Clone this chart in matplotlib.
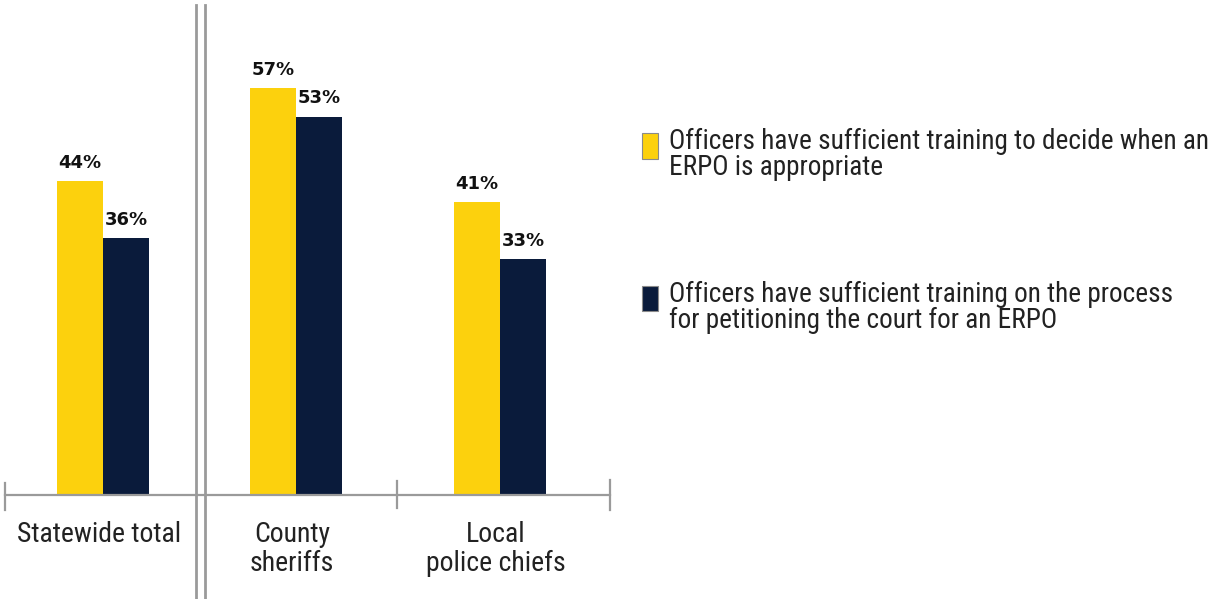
import matplotlib
matplotlib.use("Agg")
import matplotlib.pyplot as plt
from matplotlib.lines import Line2D
from matplotlib.patches import Rectangle
import matplotlib.transforms as mtransforms

categories = ["Statewide total", "County\nsheriffs", "Local\npolice chiefs"]
series_names = ["Officers have sufficient training to decide when an\nERPO is appropriate",
                "Officers have sufficient training on the process\nfor petitioning the court for an ERPO"]
decide = [44, 57, 41]
process = [36, 53, 33]
colors = ["#FCD10D", "#0A1B3B"]

cond = ["Roboto Condensed", "DejaVu Sans"]
bold = ["DejaVu Sans"]

W, H = 1214, 599
fig = plt.figure(figsize=(W / 100, H / 100), dpi=100)
ax = fig.add_axes([5 / W, (H - 495) / H, 605 / W, 490 / H])

x = [0, 0.972, 2.0]
bw = 0.232
for i, (a, b) in enumerate(zip(decide, process)):
    ax.bar(x[i] - bw / 2, a, width=bw, color=colors[0], zorder=2)
    ax.bar(x[i] + bw / 2, b, width=bw, color=colors[1], zorder=2)
    ax.text(x[i] - bw / 2, a + 1.3, f"{a}%", ha="center", va="bottom",
            fontsize=13, fontweight="bold", color="#111111", family=bold)
    ax.text(x[i] + bw / 2, b + 1.3, f"{b}%", ha="center", va="bottom",
            fontsize=13, fontweight="bold", color="#111111", family=bold)

ax.set_xlim(-0.494, 2.554)
ax.set_ylim(0, 490 / 7.14)
ax.axis("off")

trans = mtransforms.blended_transform_factory(ax.transData, ax.transAxes)
for i, c in enumerate(categories):
    ax.text(x[i] - 0.02, -0.054, c, transform=trans, ha="center", va="top",
            fontsize=20, family=cond, color="#222222", linespacing=1.05)

gray = "#9A9A9A"
fig.add_artist(Line2D([5 / W, 610 / W], [(H - 495) / H] * 2, color=gray, lw=1.6))
for px, y0, y1 in [(5, 483, 510), (397, 481, 508), (610, 480, 510)]:
    fig.add_artist(Line2D([px / W] * 2, [(H - y0) / H, (H - y1) / H], color=gray, lw=1.6))
for px in [196, 205]:
    fig.add_artist(Line2D([px / W] * 2, [(H - 5) / H, 0], color=gray, lw=2))

for (y0, y1), col, name in zip([(133, 159), (286, 311)], colors, series_names):
    fig.add_artist(Rectangle((642 / W, (H - y1) / H), 16 / W, (y1 - y0) / H,
                             facecolor=col, edgecolor="#8a8a8a", lw=0.8))
    fig.text(669 / W, (H - y0 + 5) / H, name, ha="left", va="top",
             fontsize=19.6, family=cond, color="#222222", linespacing=0.93)

fig.savefig("out.png", dpi=100)
